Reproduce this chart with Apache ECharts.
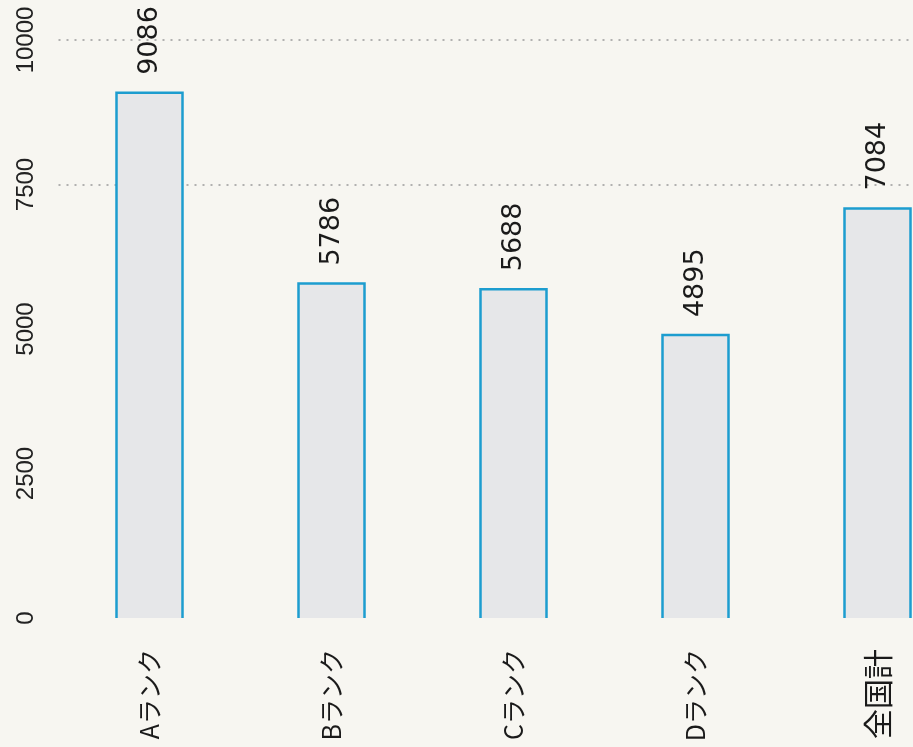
<!DOCTYPE html>
<html>
<head>
<meta charset="utf-8">
<script src="https://cdn.jsdelivr.net/npm/echarts@6/dist/echarts.min.js"></script>
<style>
html,body{margin:0;padding:0;background:#f7f6f1;}
#chart{width:913px;height:747px;}
</style>
</head>
<body>
<div id="chart"></div>
<script>
const categories = ['Aランク', 'Bランク', 'Cランク', 'Dランク', '全国計'];
const values = [9086, 5786, 5688, 4895, 7084];
const yTicks = [0, 2500, 5000, 7500, 10000];

const chart = echarts.init(document.getElementById('chart'));
const outlineData = categories.map((c, i) => [i, values[i]]);

chart.setOption({
  backgroundColor: '#f7f6f1',
  animation: false,
  grid: { left: 58.5, width: 910, top: 40, bottom: 129, outerBoundsMode: 'none', containLabel: false },
  xAxis: {
    type: 'category',
    data: categories,
    axisLine: { show: false },
    axisTick: { show: false },
    axisLabel: {
      rotate: 90,
      margin: 31,
      color: '#1a1a1a',
      fontFamily: '"Noto Sans CJK JP", sans-serif',
      formatter: function (v) {
        return /ランク/.test(v) ? '{k|' + v + '}' : '{j|' + v + '}';
      },
      rich: {
        k: { fontSize: 25, color: '#1a1a1a', fontFamily: '"Noto Sans CJK JP", sans-serif' },
        j: { fontSize: 30, color: '#1a1a1a', fontFamily: '"Noto Sans CJK JP", sans-serif' }
      }
    }
  },
  yAxis: {
    type: 'value',
    min: yTicks[0],
    max: yTicks[yTicks.length - 1],
    interval: 2500,
    axisLine: { show: false },
    axisTick: { show: false },
    axisLabel: {
      rotate: 90,
      margin: 20,
      fontSize: 24,
      color: '#222',
      fontFamily: '"Liberation Sans", sans-serif',
      formatter: function (v) { return String(v); }
    },
    splitLine: {
      show: true,
      lineStyle: {
        type: [2, 6],
        width: 1.5,
        color: ['rgba(0,0,0,0)', 'rgba(0,0,0,0)', 'rgba(0,0,0,0)', '#9a9a9a', '#9a9a9a']
      }
    }
  },
  series: [
    {
      type: 'bar',
      data: values,
      barWidth: 66,
      itemStyle: { color: '#e6e7e9' },
      label: {
        show: true,
        position: 'top',
        rotate: 90,
        align: 'left',
        verticalAlign: 'middle',
        distance: 18,
        fontSize: 27,
        color: '#1a1a1a',
        fontFamily: '"DejaVu Sans", sans-serif'
      }
    },
    {
      type: 'custom',
      data: outlineData,
      encode: { x: 0, y: 1 },
      renderItem: function (params, api) {
        const idx = api.value(0);
        const v = api.value(1);
        const top = api.coord([idx, v]);
        const base = api.coord([idx, 0]);
        const w = 33;
        return {
          type: 'polyline',
          shape: {
            points: [
              [top[0] - w, base[1]],
              [top[0] - w, top[1]],
              [top[0] + w, top[1]],
              [top[0] + w, base[1]]
            ]
          },
          style: { stroke: '#1d9dcf', lineWidth: 2.5, fill: null }
        };
      },
      z: 5
    }
  ]
});
</script>
</body>
</html>
